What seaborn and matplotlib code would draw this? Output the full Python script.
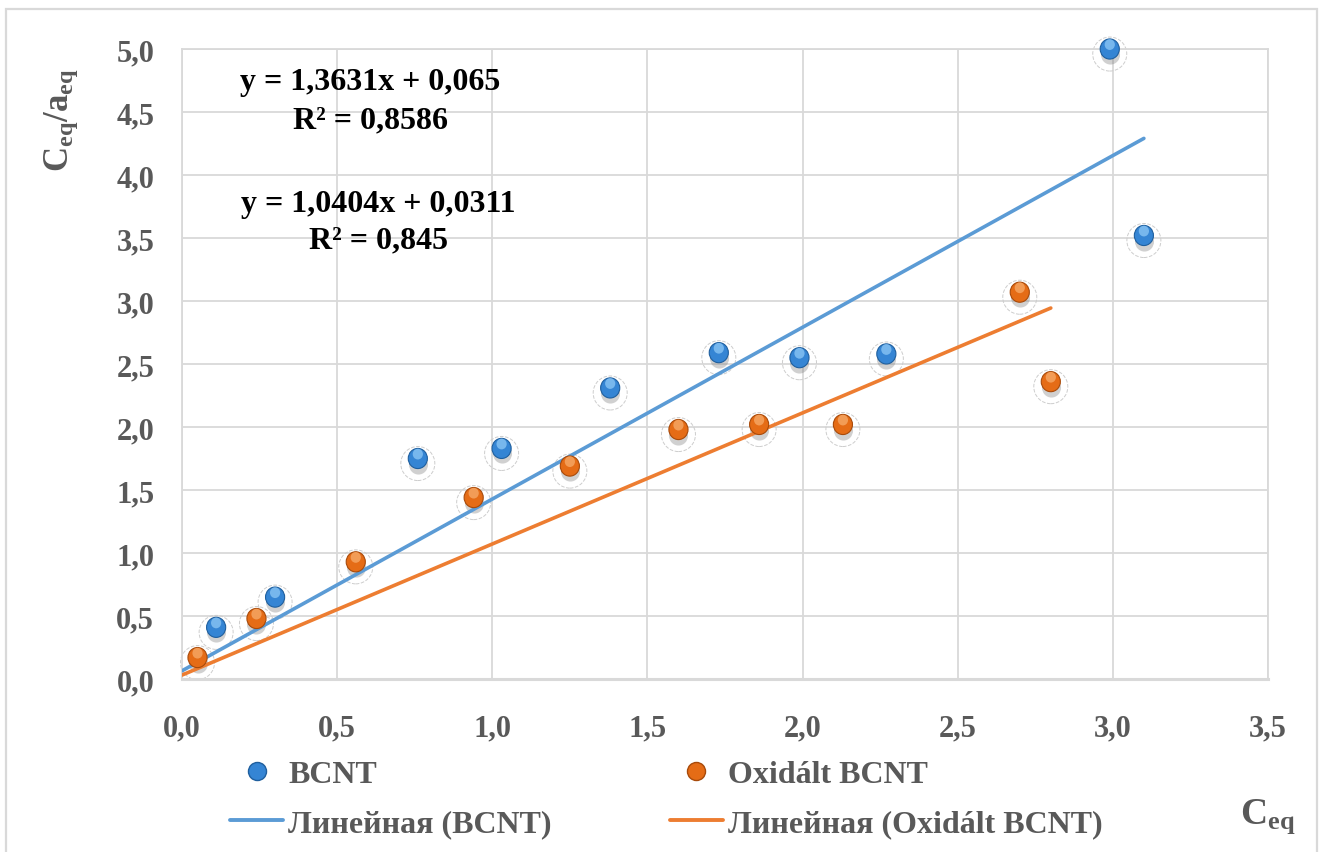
import numpy as np
import matplotlib
matplotlib.use("Agg")
import matplotlib.pyplot as plt
import seaborn as sns
import pandas as pd
from matplotlib.path import Path
from matplotlib.patches import Rectangle
from matplotlib.lines import Line2D

# ---- data ----
bcnt_x = [0.11, 0.30, 0.76, 1.03, 1.38, 1.73, 1.99, 2.27, 2.99, 3.10]
bcnt_y = [0.41, 0.65, 1.75, 1.83, 2.31, 2.59, 2.55, 2.58, 5.00, 3.52]
ox_x = [0.05, 0.24, 0.56, 0.94, 1.25, 1.60, 1.86, 2.13, 2.70, 2.80]
ox_y = [0.17, 0.48, 0.93, 1.44, 1.69, 1.98, 2.02, 2.02, 3.07, 2.36]
series_names = ["BCNT", "Oxidált BCNT"]
trend_names = ["Линейная (BCNT)", "Линейная (Oxidált BCNT)"]
slopes = [1.3631, 1.0404]
intercepts = [0.065, 0.0311]
eq_lines = ["y = 1,3631x + 0,065", "R² = 0,8586", "y = 1,0404x + 0,0311", "R² = 0,845"]
x_ticks = [0.0, 0.5, 1.0, 1.5, 2.0, 2.5, 3.0, 3.5]
y_ticks = [0.0, 0.5, 1.0, 1.5, 2.0, 2.5, 3.0, 3.5, 4.0, 4.5, 5.0]

sns.set_theme(style="white")
plt.rcParams['font.family'] = ['Liberation Serif', 'DejaVu Serif']
plt.rcParams['mathtext.fontset'] = 'custom'
plt.rcParams['mathtext.rm'] = 'Liberation Serif'
plt.rcParams['mathtext.bf'] = 'Liberation Serif:bold'
plt.rcParams['mathtext.it'] = 'Liberation Serif:italic'

blue = "#3585d4"
orange = "#e56c16"
blue_edge = "#1f5f9e"
orange_edge = "#a84a0a"
line_blue = "#5b9bd5"
line_orange = "#ed7d31"
grid_c = "#d9d9d9"
txt_c = "#595959"

W, H = 1320, 853
fig = plt.figure(figsize=(W / 100, H / 100), dpi=100)
fig.patch.set_facecolor("white")
fig.patches.append(Rectangle((6 / W, -0.02), (1317 - 6) / W, 1 - 10 / H + 0.02,
                             transform=fig.transFigure, fill=False,
                             edgecolor=grid_c, linewidth=1.6, zorder=0))

left, right, top, bottom = 182, 1268, 50, 680
ax = fig.add_axes([left / W, 1 - bottom / H, (right - left) / W, (bottom - top) / H])

df = pd.DataFrame({
    "x": bcnt_x + ox_x,
    "y": bcnt_y + ox_y,
    "s": [series_names[0]] * len(bcnt_x) + [series_names[1]] * len(ox_x),
})
n_b, n_o = len(bcnt_x), len(ox_x)

ball = Path.unit_circle()
ball = Path(ball.vertices * np.array([0.95, 1.0]), ball.codes)

# halos
ax.scatter(df["x"], np.array(df["y"]) - 0.04, s=600, marker="o",
           facecolors="none", edgecolors="#cdcdcd",
           linewidths=0.7, linestyles="--", zorder=2, clip_on=False)
# shadow
ax.scatter(df["x"], np.array(df["y"]) - 0.04, s=210, marker=ball, color="#7a7a7a", alpha=0.35,
           linewidths=0, zorder=3, clip_on=False)
sns.scatterplot(data=df, x="x", y="y", hue="s", palette=[blue, orange], marker=ball,
                s=210, edgecolor=[blue_edge] * n_b + [orange_edge] * n_o,
                linewidth=0.8, legend=False, ax=ax, zorder=4, clip_on=False)
# highlight
hl_cols = ["#7fbdf0"] * n_b + ["#f4a25e"] * n_o
ax.scatter(df["x"], np.array(df["y"]) + 0.035, s=60, marker=ball, c=hl_cols,
           linewidths=0, alpha=0.9, zorder=5, clip_on=False)

# trend lines
for xs, m, b, c in [(bcnt_x, slopes[0], intercepts[0], line_blue),
                    (ox_x, slopes[1], intercepts[1], line_orange)]:
    lx = np.array([0.0, max(xs)])
    ld = pd.DataFrame({"x": lx, "y": m * lx + b})
    sns.lineplot(data=ld, x="x", y="y", color=c, linewidth=2.6, ax=ax, zorder=3.5)

ax.set_xlim(0, 3.5)
ax.set_ylim(0, 5.0)
ax.set_xticks(x_ticks)
ax.set_yticks(y_ticks)
ax.set_xticklabels([f"{v:.1f}".replace(".", ",") for v in x_ticks])
ax.set_yticklabels([f"{v:.1f}".replace(".", ",") for v in y_ticks])
ax.tick_params(axis="both", length=0, labelsize=22, colors=txt_c)
ax.tick_params(axis="x", pad=25)
ax.tick_params(axis="y", pad=20)
for lab in ax.get_xticklabels() + ax.get_yticklabels():
    lab.set_fontweight("bold")
ax.grid(True, color=grid_c, linewidth=1.3)
ax.set_axisbelow(True)
for sp in ax.spines.values():
    sp.set_color(grid_c)
    sp.set_linewidth(1.3)
ax.spines["bottom"].set_linewidth(2.2)
ax.set_xlabel("")
ax.set_ylabel("")

# equations (baseline positions)
eq_pos = [(0.606, 4.683), (0.606, 4.381), (0.632, 3.714), (0.632, 3.429)]
for (ex, ey), t in zip(eq_pos, eq_lines):
    ax.text(ex, ey, t, ha="center", va="baseline",
            fontsize=23, fontweight="bold", color="black")

# axis titles
fig.text(61 / W, 1 - 120 / H, r"$\mathbf{C_{eq}/a_{eq}}$", rotation=90, ha="center",
         va="center", fontsize=25, color=txt_c)
fig.text(1268 / W, 1 - 817 / H, r"$\mathbf{C_{eq}}$", ha="center", va="center",
         fontsize=27, color=txt_c)

# legend
handles = [
    Line2D([], [], linestyle="none", marker="o", markersize=13, markerfacecolor=blue,
           markeredgecolor=blue_edge),
    Line2D([], [], color=line_blue, linewidth=2.8),
    Line2D([], [], linestyle="none", marker="o", markersize=13, markerfacecolor=orange,
           markeredgecolor=orange_edge),
    Line2D([], [], color=line_orange, linewidth=2.8),
]
labels = [series_names[0], trend_names[0], series_names[1], trend_names[1]]
leg = fig.legend(handles, labels, ncol=2, loc="upper left",
                 bbox_to_anchor=(230 / W, 1 - 761 / H), frameon=False,
                 prop={"family": "Liberation Serif", "weight": "bold", "size": 23},
                 handlelength=1.66, handletextpad=0.16, columnspacing=3.7,
                 labelspacing=0.6, borderpad=0.0, borderaxespad=0.0)
for t in leg.get_texts():
    t.set_color(txt_c)

fig.savefig("out.png", dpi=100, facecolor="white")
